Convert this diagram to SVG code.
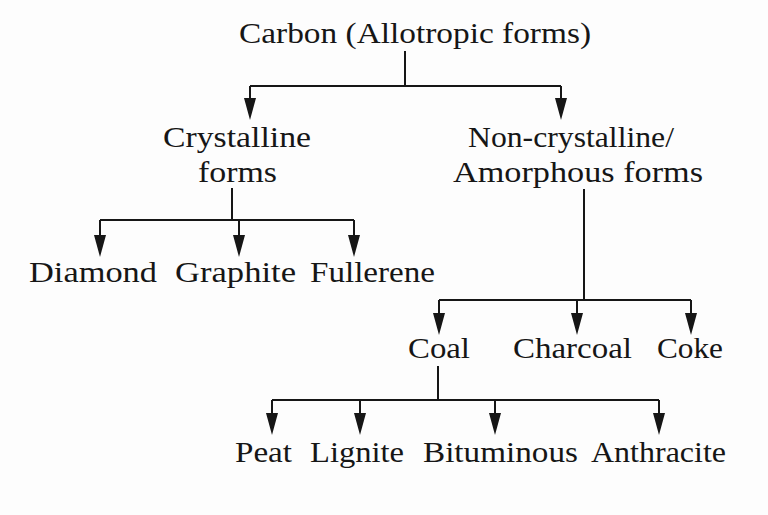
<svg xmlns="http://www.w3.org/2000/svg" xmlns:xlink="http://www.w3.org/1999/xlink" width="768" height="515" viewBox="0 0 768 515">
<style>
  text { font-family: "Liberation Serif", "Times New Roman", serif; font-size: 30px; fill: #161616; }
  .ln { stroke: #161616; stroke-width: 2; fill: none; }
  .ah { fill: #161616; }
</style>
<defs>
  <path id="ah" class="ah" d="M-6,-22 L6,-22 L0,0 Z"/>
</defs>
<rect width="768" height="515" fill="#fdfdfd"/>

<g id="connectors">
  <!-- Carbon -> Crystalline / Amorphous -->
  <path class="ln" d="M405,51 V86 M250,86 H561 M250,86 V106 M561,86 V106"/>
  <use xlink:href="#ah" x="250" y="120"/>
  <use xlink:href="#ah" x="561" y="120"/>
  <!-- Crystalline -> Diamond / Graphite / Fullerene -->
  <path class="ln" d="M232,188 V220 M100,220 H354 M100,220 V243 M239,220 V243 M354,220 V243"/>
  <use xlink:href="#ah" x="100" y="257"/>
  <use xlink:href="#ah" x="239" y="257"/>
  <use xlink:href="#ah" x="354" y="257"/>
  <!-- Amorphous -> Coal / Charcoal / Coke -->
  <path class="ln" d="M584,189 V300 M439,300 H691 M439,300 V321 M577,300 V321 M691,300 V321"/>
  <use xlink:href="#ah" x="439" y="335"/>
  <use xlink:href="#ah" x="577" y="335"/>
  <use xlink:href="#ah" x="691" y="335"/>
  <!-- Coal -> Peat / Lignite / Bituminous / Anthracite -->
  <path class="ln" d="M438,366 V400 M272,400 H659 M272,400 V421 M360,400 V421 M495,400 V421 M659,400 V421"/>
  <use xlink:href="#ah" x="272" y="435"/>
  <use xlink:href="#ah" x="360" y="435"/>
  <use xlink:href="#ah" x="495" y="435"/>
  <use xlink:href="#ah" x="659" y="435"/>
</g>

<g id="carbon"><text x="239" y="43" textLength="352" lengthAdjust="spacingAndGlyphs">Carbon (Allotropic forms)</text></g>
<g id="crystalline">
  <text x="163" y="147" textLength="148" lengthAdjust="spacingAndGlyphs">Crystalline</text>
  <text x="198" y="182" textLength="79" lengthAdjust="spacingAndGlyphs">forms</text>
</g>
<g id="amorphous">
  <text x="468" y="147" textLength="206" lengthAdjust="spacingAndGlyphs">Non-crystalline/</text>
  <text x="453" y="182" textLength="250" lengthAdjust="spacingAndGlyphs">Amorphous forms</text>
</g>
<g id="diamond"><text x="29" y="282" textLength="128" lengthAdjust="spacingAndGlyphs">Diamond</text></g>
<g id="graphite"><text x="175" y="282" textLength="121" lengthAdjust="spacingAndGlyphs">Graphite</text></g>
<g id="fullerene"><text x="310" y="282" textLength="125" lengthAdjust="spacingAndGlyphs">Fullerene</text></g>
<g id="coal"><text x="408" y="358" textLength="62" lengthAdjust="spacingAndGlyphs">Coal</text></g>
<g id="charcoal"><text x="513" y="358" textLength="119" lengthAdjust="spacingAndGlyphs">Charcoal</text></g>
<g id="coke"><text x="657" y="358" textLength="66" lengthAdjust="spacingAndGlyphs">Coke</text></g>
<g id="peat"><text x="235" y="462" textLength="57" lengthAdjust="spacingAndGlyphs">Peat</text></g>
<g id="lignite"><text x="310" y="462" textLength="94" lengthAdjust="spacingAndGlyphs">Lignite</text></g>
<g id="bituminous"><text x="423" y="462" textLength="155" lengthAdjust="spacingAndGlyphs">Bituminous</text></g>
<g id="anthracite"><text x="591" y="462" textLength="135" lengthAdjust="spacingAndGlyphs">Anthracite</text></g>
</svg>
